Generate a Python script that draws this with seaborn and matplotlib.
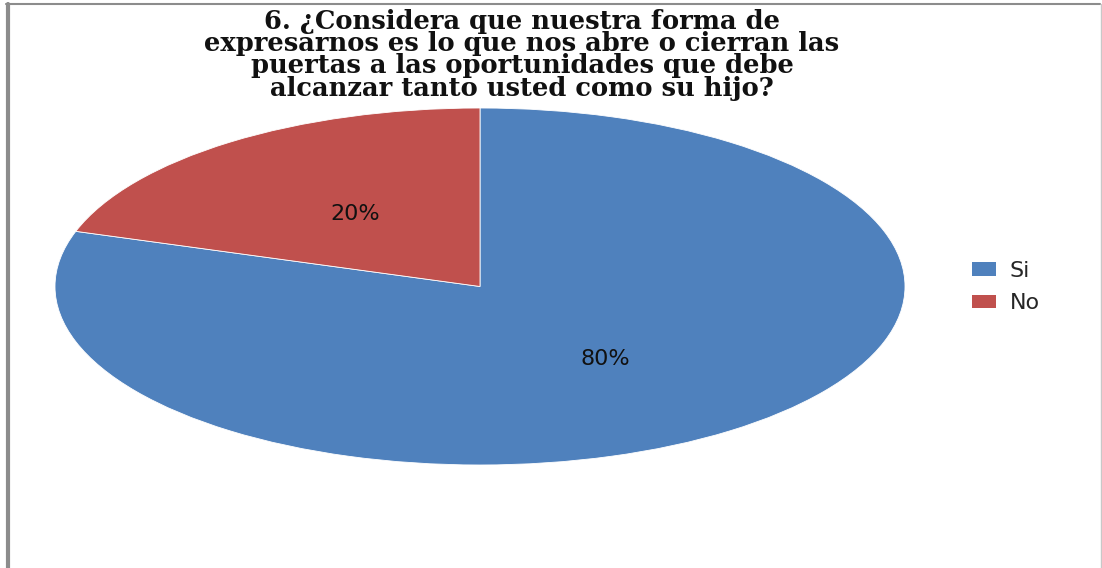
import matplotlib
matplotlib.use("Agg")
import matplotlib.pyplot as plt
import seaborn as sns
from matplotlib.lines import Line2D
from matplotlib.patches import Patch

categories = ["Si", "No"]
values = [80, 20]
colors = ["#4F81BD", "#C0504D"]
title = ("6. ¿Considera que nuestra forma de\n"
         "expresarnos es lo que nos abre o cierran las\n"
         "puertas a las oportunidades que debe\n"
         "alcanzar tanto usted como su hijo?")

sns.set_theme(style="white")
plt.rcParams['font.family'] = ['DejaVu Sans']

fig = plt.figure(figsize=(11.02, 5.68), dpi=100)
W, H = 1102, 568

# pie axes: ellipse spanning x 55..905, y 108..465 px
ax = fig.add_axes([55 / W, 1 - 465 / H, 850 / W, 357 / H])
wedges, texts, autotexts = ax.pie(
    values, colors=colors, startangle=90, counterclock=False,
    autopct=lambda p: f"{p:.0f}%", pctdistance=0.5,
    wedgeprops=dict(edgecolor="white", linewidth=0.6),
    textprops=dict(fontsize=16, color="#111111"))
ax.set_aspect("auto")
ax.set_xlim(-1, 1)
ax.set_ylim(-1, 1)
ax.axis("off")

# title
fig.text(522 / W, 1 - 9 / H, title, ha="center", va="top",
         fontsize=18.5, fontweight="bold", family="DejaVu Serif",
         linespacing=0.86, color="#111111")

# legend
handles = [Patch(facecolor=c, edgecolor="none") for c in colors]
fig.legend(handles, categories, loc="center left",
           bbox_to_anchor=(952 / W, 1 - 287 / H), frameon=False,
           fontsize=16, handlelength=1.1, handleheight=0.55,
           handletextpad=0.6, labelspacing=0.55)

# frame lines
fig.add_artist(Line2D([6 / W, 1100 / W], [1 - 4 / H, 1 - 4 / H],
                      color="#8c8c8c", linewidth=1.5, transform=fig.transFigure))
fig.add_artist(Line2D([8 / W, 8 / W], [0, 1 - 4 / H],
                      color="#8c8c8c", linewidth=3, transform=fig.transFigure))
fig.add_artist(Line2D([1101 / W, 1101 / W], [0, 1 - 4 / H],
                      color="#c8c8c8", linewidth=1, transform=fig.transFigure))

fig.savefig("out.png", dpi=100, facecolor="white")
